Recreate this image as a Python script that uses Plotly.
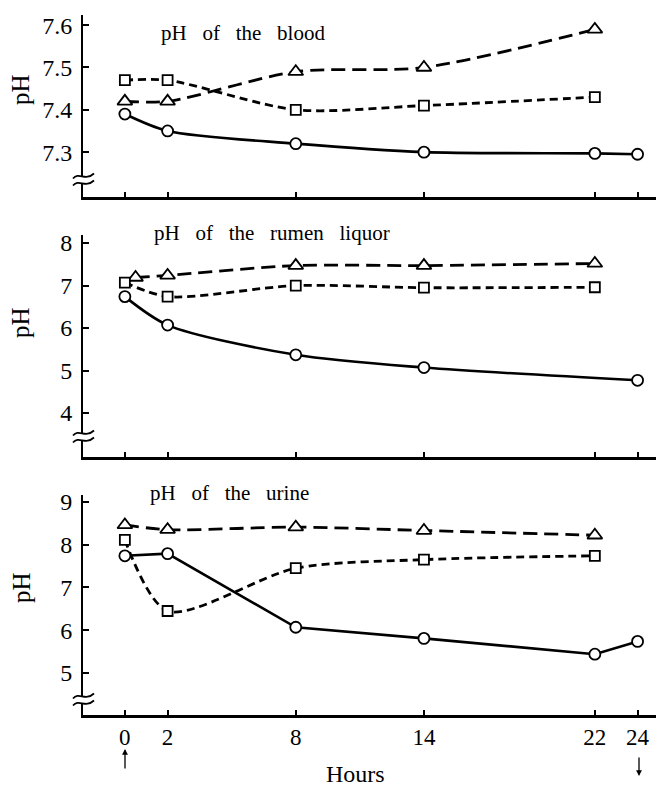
import plotly.graph_objects as go

# ---- data ----
hours_tri = [0, 2, 8, 14, 22]
hours_sq = [0, 2, 8, 14, 22]
hours_circ = [0, 2, 8, 14, 22, 24]
hours_rumen_tri = [0.5, 2, 8, 14, 22]
hours_rumen_circ = [0, 2, 8, 14, 24]

blood_tri = [7.42, 7.42, 7.49, 7.50, 7.59]
blood_sq = [7.47, 7.47, 7.40, 7.41, 7.43]
blood_circ = [7.39, 7.35, 7.32, 7.30, 7.297, 7.295]

rumen_tri = [7.19, 7.24, 7.47, 7.47, 7.52]
rumen_sq = [7.07, 6.74, 7.00, 6.95, 6.96]
rumen_circ = [6.74, 6.07, 5.37, 5.07, 4.77]

urine_tri = [8.46, 8.35, 8.41, 8.33, 8.22]
urine_sq = [8.11, 6.45, 7.45, 7.65, 7.74]
urine_circ = [7.74, 7.79, 6.07, 5.81, 5.44, 5.74]

x_ticks = [0, 2, 8, 14, 22, 24]
blood_ticks = [7.3, 7.4, 7.5, 7.6]
rumen_ticks = [4, 5, 6, 7, 8]
urine_ticks = [5, 6, 7, 8, 9]

SP = "\u00a0 \u00a0"
panel_titles = [SP.join(["pH", "of", "the", "blood"]),
                SP.join(["pH", "of", "the", "rumen", "liquor"]),
                SP.join(["pH", "of", "the", "urine"])]

SERIF = "Liberation Serif, Times New Roman, serif"

fig = go.Figure()

def add_panel(idx, tri_x, tri_y, sq_x, sq_y, c_x, c_y, circ_shape):
    xa = "x" if idx == 1 else f"x{idx}"
    ya = "y" if idx == 1 else f"y{idx}"
    fig.add_trace(go.Scatter(
        x=tri_x, y=tri_y, xaxis=xa, yaxis=ya, mode="lines+markers",
        line=dict(color="black", width=2.8, dash="14px,7px", shape="spline", smoothing=0.8),
        marker=dict(symbol="triangle-up", size=13, color="white",
                    line=dict(color="black", width=1.8)),
        showlegend=False, cliponaxis=False))
    fig.add_trace(go.Scatter(
        x=sq_x, y=sq_y, xaxis=xa, yaxis=ya, mode="lines+markers",
        line=dict(color="black", width=2.8, dash="8px,5px", shape="spline", smoothing=0.8),
        marker=dict(symbol="square", size=10, color="white",
                    line=dict(color="black", width=1.8)),
        showlegend=False, cliponaxis=False))
    fig.add_trace(go.Scatter(
        x=c_x, y=c_y, xaxis=xa, yaxis=ya, mode="lines+markers",
        line=dict(color="black", width=2.6, shape=circ_shape, smoothing=0.8),
        marker=dict(symbol="circle", size=11, color="white",
                    line=dict(color="black", width=1.8)),
        showlegend=False, cliponaxis=False))

add_panel(1, hours_tri, blood_tri, hours_sq, blood_sq, hours_circ, blood_circ, "spline")
add_panel(2, hours_rumen_tri, rumen_tri, hours_sq, rumen_sq, hours_rumen_circ, rumen_circ, "spline")
add_panel(3, hours_tri, urine_tri, hours_sq, urine_sq, hours_circ, urine_circ, "linear")

# page offset (default body margin) and geometry helpers (page pixel -> paper)
OFF = 8
W, H = 664 - OFF, 787 - OFF
L, R, T, B = 83 - OFF, 4, 15 - OFF, 787 - 715
PW, PH = W - L - R, H - T - B
def px(xp):
    return (xp - OFF - L) / PW
def py(yp):
    return (H - B - (yp - OFF)) / PH

xr = [-1.96, 25.05]
common_x = dict(range=xr, tickvals=x_ticks, ticks="inside", ticklen=5, tickwidth=1.5,
                tickcolor="black", showline=True, linewidth=2.6, linecolor="black",
                showgrid=False, zeroline=False, automargin=False,
                tickfont=dict(family=SERIF, size=23, color="black"))
common_y = dict(ticks="inside", ticklen=6, tickwidth=1.5, tickcolor="black",
                showline=True, linewidth=2, linecolor="black", showgrid=False,
                zeroline=False, automargin=False,
                tickfont=dict(family=SERIF, size=24, color="black"),
                ticklabelstandoff=4)

fig.update_layout(
    width=W, height=H,
    margin=dict(l=L, r=R, t=T, b=B, autoexpand=False),
    paper_bgcolor="white", plot_bgcolor="white",
    xaxis=dict(common_x, anchor="y", domain=[0, 1], showticklabels=False),
    xaxis2=dict(common_x, anchor="y2", domain=[0, 1], showticklabels=False),
    xaxis3=dict(common_x, anchor="y3", domain=[0, 1], showticklabels=True),
    yaxis=dict(common_y, anchor="x", domain=[py(197), py(15)], range=[7.194, 7.624],
               tickvals=blood_ticks, ticktext=[f"{v:.1f}" for v in blood_ticks]),
    yaxis2=dict(common_y, anchor="x2", domain=[py(457), py(235)], range=[2.965, 8.19],
                tickvals=rumen_ticks),
    yaxis3=dict(common_y, anchor="x3", domain=[py(715), py(495)], range=[4.02, 9.16],
                tickvals=urine_ticks),
)

ann = []
# panel titles
for t, (xp, yp) in zip(panel_titles, [(159, 33), (152, 233), (148, 493)]):
    ann.append(dict(text=t, x=px(xp), y=py(yp), xref="paper", yref="paper",
                    xanchor="left", yanchor="middle", showarrow=False,
                    font=dict(family=SERIF, size=21, color="black")))
# y-axis titles
for yp in [90, 323, 588]:
    ann.append(dict(text="pH", x=px(21), y=py(yp), xref="paper", yref="paper",
                    xanchor="center", yanchor="middle", textangle=-90, showarrow=False,
                    font=dict(family=SERIF, size=25, color="black")))
# x title
ann.append(dict(text="Hours", x=px(355), y=py(774), xref="paper", yref="paper",
                xanchor="center", yanchor="middle", showarrow=False,
                font=dict(family=SERIF, size=24, color="black")))
# start / end arrows
ann.append(dict(text="", x=px(125), y=py(749), xref="paper", yref="paper",
                ax=0, ay=21, showarrow=True, arrowhead=2, arrowsize=0.9,
                arrowwidth=1.3, arrowcolor="black", standoff=0))
ann.append(dict(text="", x=px(639), y=py(776), xref="paper", yref="paper",
                ax=0, ay=-20, showarrow=True, arrowhead=2, arrowsize=0.9,
                arrowwidth=1.3, arrowcolor="black", standoff=0))
fig.update_layout(annotations=ann)

# axis-break marks (white gap + two wavy strokes across the y-axis)
shapes = []
def P(xp, yp):
    return f"{px(xp):.5f},{py(yp):.5f}"
for yb in [180, 437, 700]:
    shapes.append(dict(type="rect", xref="paper", yref="paper",
                       x0=px(80), x1=px(86), y0=py(yb + 3), y1=py(yb - 3),
                       fillcolor="white", line=dict(width=0), layer="above"))
    for dy in (-3.5, 3.5):
        y0 = yb + dy
        path = (f"M{P(73, y0 + 2)} C{P(79, y0 - 5)} {P(85, y0 + 5)} {P(94, y0 - 3)}")
        shapes.append(dict(type="path", xref="paper", yref="paper", path=path,
                           line=dict(color="black", width=1.8), layer="above"))
fig.update_layout(shapes=shapes)

fig.write_html("out.html")
